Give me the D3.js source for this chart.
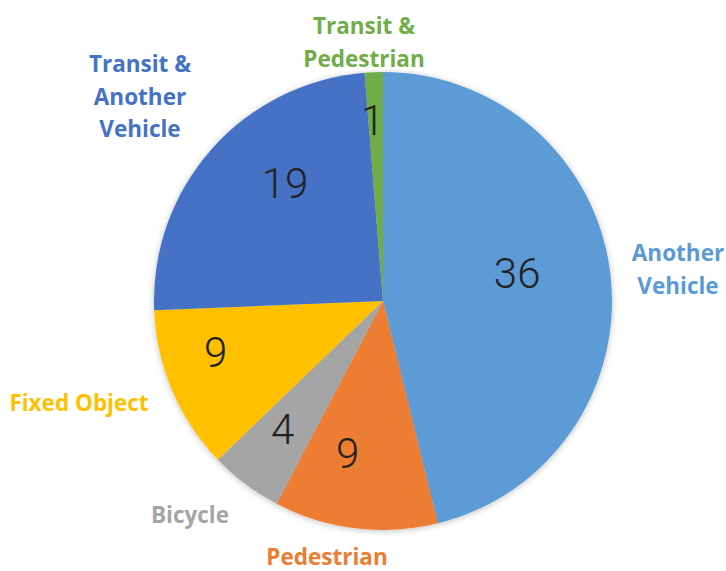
<!DOCTYPE html>
<html><head><meta charset="utf-8">
<script src="https://cdn.jsdelivr.net/npm/d3@7"></script>
<style>body{margin:0;background:#fff}svg{display:block}</style>
</head><body>
<svg id="c" width="726" height="571"></svg>
<script>
const categories = ["Another Vehicle","Pedestrian","Bicycle","Fixed Object","Transit & Another Vehicle","Transit & Pedestrian"];
const values = [36, 9, 4, 9, 19, 1];
const colors = ["#5B9BD5","#ED7D31","#A5A5A5","#FFC000","#4472C4","#70AD47"];
const labelLines = [["Another","Vehicle"],["Pedestrian"],["Bicycle"],["Fixed Object"],["Transit &","Another","Vehicle"],["Transit &","Pedestrian"]];

const svg = d3.select("#c");
const cx = 383, cy = 301, R = 229;
const defs = svg.append("defs");
const f = defs.append("filter").attr("id","sh").attr("x","-20%").attr("y","-20%").attr("width","140%").attr("height","140%");
f.append("feDropShadow").attr("dx",0).attr("dy",1).attr("stdDeviation",3).attr("flood-color","#000").attr("flood-opacity",0.25);

const pie = d3.pie().sort(null).value(d=>d)(values);
const arc = d3.arc().innerRadius(0).outerRadius(R);
const g = svg.append("g").attr("transform",`translate(${cx},${cy})`);
g.append("g").attr("filter","url(#sh)").selectAll("path").data(pie).join("path")
  .attr("d",arc).attr("fill",(d,i)=>colors[i]);

// value labels: placed inside each slice (layout offsets from the slice mid-angle point)
const valR = 0.7;
const valShift = [[-25,-9],[-16,-7],[-4,0],[-20,-12],[22,-12],[-4,-21]];
g.selectAll("text.v").data(pie).join("text").attr("class","v")
  .attr("x",(d,i)=>Math.sin((d.startAngle+d.endAngle)/2)*R*valR + valShift[i][0])
  .attr("y",(d,i)=>-Math.cos((d.startAngle+d.endAngle)/2)*R*valR + valShift[i][1] + 15)
  .attr("text-anchor","middle")
  .attr("font-family","Roboto, 'Liberation Sans', sans-serif").attr("font-weight",300)
  .attr("font-size",42).attr("fill","#222")
  .text(d=>d.data);

// category labels (layout: centre x and first baseline relative to pie centre)
const catPos = [[295,-40],[-56,264],[-193,222],[-304,110],[-243,-229],[-19,-267]];
const lh = 32.5;
labelLines.forEach((lines,i)=>{
  const t = g.append("text").attr("text-anchor","middle")
    .attr("font-family","'Open Sans', Lato, sans-serif").attr("font-weight",700)
    .attr("font-size",22.5).attr("fill",colors[i]);
  lines.forEach((s,k)=>{
    t.append("tspan").attr("x",catPos[i][0])
      .attr("y",catPos[i][1] + k*lh).text(s);
  });
});
</script>
</body></html>
